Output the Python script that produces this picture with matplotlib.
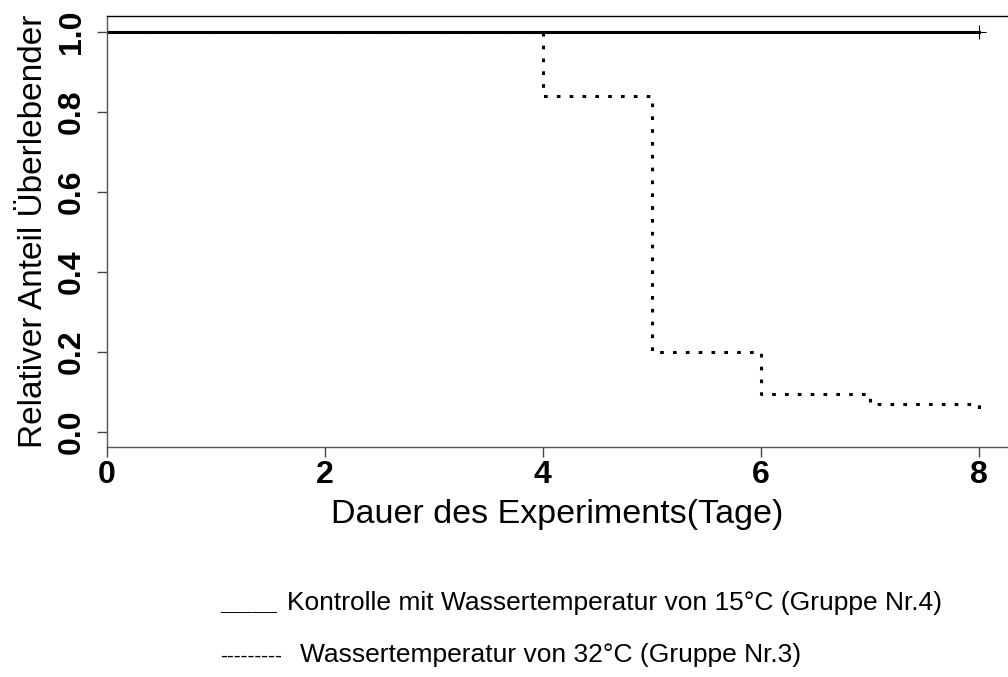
import matplotlib
matplotlib.use('Agg')
import matplotlib.pyplot as plt

# survival data (Kaplan-Meier style steps)
days_ctrl = [0, 8]
surv_ctrl = [1.0, 1.0]
days_warm = [0, 4, 5, 6, 7, 8]
surv_warm = [1.0, 0.84, 0.2, 0.096, 0.07, 0.05]

x_ticks = [0, 2, 4, 6, 8]
y_ticks = [0.0, 0.2, 0.4, 0.6, 0.8, 1.0]

legend_keys = ['_______', '---------']
legend_texts = ['Kontrolle mit Wassertemperatur von 15°C (Gruppe Nr.4)',
                'Wassertemperatur von 32°C (Gruppe Nr.3)']

plt.rcParams['font.family'] = ['Liberation Sans', 'DejaVu Sans']

fig = plt.figure(figsize=(10.08, 6.77), dpi=100)
ax = fig.add_axes([0.1062, 0.3397, 0.8938, 0.6367])

ax.step(days_warm, surv_warm, where='post', color='black', lw=2.2,
        linestyle=(0, (1.2, 3)))
ax.step(days_ctrl, surv_ctrl, where='post', color='black', lw=2.2)
ax.plot([days_ctrl[-1]], [surv_ctrl[-1]], marker='+', color='black',
        markersize=10, markeredgewidth=0.8)

ax.set_xlim(0, 8.27)
ax.set_ylim(-0.0375, 1.04)
ax.set_xticks(x_ticks)
ax.set_yticks(y_ticks)
ax.set_xticklabels([str(t) for t in x_ticks], fontsize=23, fontweight='bold')
ax.set_yticklabels(['%.1f' % t for t in y_ticks], fontsize=23,
                   fontweight='bold', rotation=90, va='center')
ax.tick_params(axis='both', length=7.5, width=1, color='#444444')
ax.tick_params(axis='y', pad=7)
ax.tick_params(axis='x', pad=2)
ax.spines['right'].set_visible(False)
ax.spines['left'].set_color('#555555')
ax.spines['bottom'].set_color('#555555')
for s in ax.spines.values():
    s.set_linewidth(1)

ax.set_ylabel('Relativer Anteil Überlebender', fontsize=24, labelpad=6)
ax.set_xlabel('Dauer des Experiments(Tage)', fontsize=24.5, labelpad=6)

# hand-made legend below the plot
key_size = [10.5, 15]
txt_x = [287 / 1008, 300 / 1008]
base_y = [1 - 610 / 677, 1 - 662 / 677]
for k, t, ks, tx, by in zip(legend_keys, legend_texts, key_size, txt_x, base_y):
    fig.text(220 / 1008, by, k, fontsize=ks, va='baseline')
    fig.text(tx, by, t, fontsize=19, va='baseline')

fig.savefig('out.png', dpi=100)
